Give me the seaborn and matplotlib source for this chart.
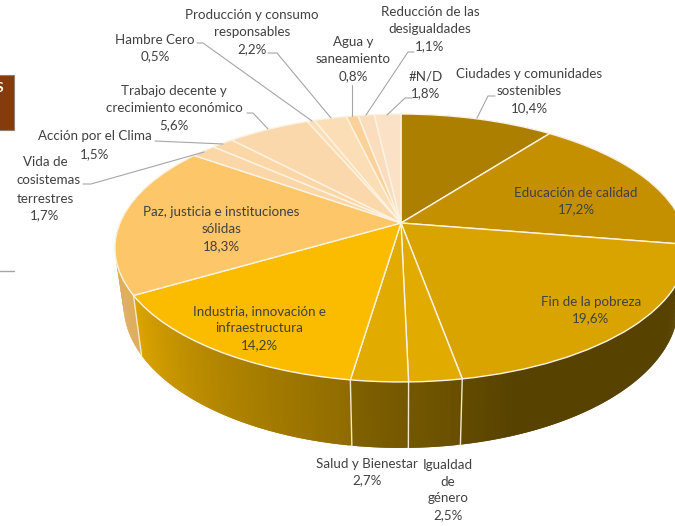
import numpy as np
import matplotlib
matplotlib.use("Agg")
import matplotlib.pyplot as plt
import matplotlib.transforms as mtrans
from matplotlib.collections import PolyCollection
from matplotlib.patches import Rectangle
import seaborn as sns

categories = ["Ciudades y comunidades\nsostenibles", "Educación de calidad", "Fin de la pobreza",
              "Igualdad\nde\ngénero", "Salud y Bienestar", "Industria, innovación e\ninfraestructura",
              "Paz, justicia e instituciones\nsólidas", "Vida de\ncosistemas\nterrestres",
              "Acción por el Clima", "Trabajo decente y\ncrecimiento económico", "Hambre Cero",
              "Producción y consumo\nresponsables", "Agua y\nsaneamiento",
              "Reducción de las\ndesigualdades", "#N/D"]
values = [10.4, 17.2, 19.6, 2.5, 2.7, 14.2, 18.3, 1.7, 1.5, 5.6, 0.5, 2.2, 0.8, 1.1, 1.8]
slice_colors = ["#AD7F00", "#C49000", "#D9A400", "#E2AB00", "#E2AB00", "#FBBC00", "#FDC669",
                "#FBD7A8", "#FBD7A8", "#FBD7AC", "#FBDDB6", "#FBDDB6", "#FBD19A", "#FBDDBE", "#FBE1C6"]

sns.set_theme(style="white")
plt.rcParams["font.family"] = ["Lato", "DejaVu Sans"]

CX, CY, R, B, K = 401.0, 223.0, 281.0, 129.3, 0.1866


class Tilt(mtrans.Transform):
    """Perspective view of the unit pie plane, in pixel-like axes units."""
    input_dims = output_dims = 2
    is_separable = False
    has_inverse = False

    def __init__(self, lower=False):
        super().__init__()
        self.lower = lower

    def transform_non_affine(self, v):
        v = np.asarray(v, dtype=float)
        s = 1.0 / (1.0 + K * v[:, 1])
        x = CX + R * v[:, 0] * s
        y = CY - B * v[:, 1] * s
        if self.lower:
            x = CX + 0.97 * (x - CX)
            y = y + 55 + 0.069 * (y - CY)
        return np.column_stack([x, y])


fig = plt.figure(figsize=(6.75, 5.26), dpi=100, facecolor="white")
ax = fig.add_axes([0, 0, 1, 1])

# light falloff along the visible rim, keyed on the pie angle (deg clockwise from top)
def shade(a):
    return np.interp(a, [95, 160, 170, 180, 190, 215, 240, 360],
                     [0.40, 0.40, 0.46, 0.52, 0.58, 0.72, 0.88, 0.88])

fractions = np.array(values) / np.sum(values)
edges = np.concatenate([[0], np.cumsum(fractions)]) * 360.0
polys, cols = [], []
up, low = Tilt(False), Tilt(True)
for i, col in enumerate(slice_colors):
    rgb = np.array(matplotlib.colors.to_rgb(col))
    a = np.arange(edges[i], edges[i + 1] + 0.01, 0.5)
    a = np.append(a, edges[i + 1])
    for a0, a1 in zip(a[:-1], a[1:]):
        if a1 <= a0:
            continue
        # each strip runs on under the next one, so no pale seam shows between them
        t = np.radians([a0, a0 + (a1 - a0) * 0.5, min(a1 + 0.5, edges[i + 1])])
        unit = np.column_stack([np.sin(t), np.cos(t)])
        pu, pl = up.transform_non_affine(unit), low.transform_non_affine(unit)
        polys.append([pu[0], pu[1], pu[2], pl[2], pl[1], pl[0]])
        cols.append(rgb * shade(0.5 * (a0 + a1)))
ax.add_collection(PolyCollection(polys, facecolors=cols, edgecolors="none", zorder=1))

# slice separators on the rim
for a in edges[1:8]:
    t = np.radians([a])
    unit = np.column_stack([np.sin(t), np.cos(t)])
    pu, pl = up.transform_non_affine(unit)[0], low.transform_non_affine(unit)[0]
    ax.plot([pu[0], pl[0]], [pu[1], pl[1]], color="#F3E8CF", lw=1.0, zorder=2)

wedges, _ = ax.pie(values, colors=slice_colors, startangle=90, counterclock=False,
                   wedgeprops=dict(edgecolor="#FBF3E2", linewidth=1.0, zorder=3))
for w in wedges:
    w.set_transform(up + ax.transData)

ax.set_aspect("auto")
ax.set_xlim(0, 675)
ax.set_ylim(526, 0)
ax.axis("off")

labels = [
    ("Ciudades y comunidades\nsostenibles\n10,4%", 529, 91),
    ("Educación de calidad\n17,2%", 576, 201),
    ("Fin de la pobreza\n19,6%", 591, 310),
    ("Igualdad\nde\ngénero\n2,5%", 448, 490),
    ("Salud y Bienestar\n2,7%", 367, 472),
    ("Industria, innovación e\ninfraestructura\n14,2%", 259, 328),
    ("Paz, justicia e instituciones\nsólidas\n18,3%", 221, 229),
    ("Vida de", 45, 162),
    ("cosistemas", 49, 180),
    ("terrestres\n1,7%", 45, 207),
    ("Acción por el Clima", 95, 136),
    ("1,5%", 95, 154),
    ("Trabajo decente y\ncrecimiento económico\n5,6%", 174, 108),
    ("Hambre Cero\n0,5%", 155, 48),
    ("Producción y consumo\nresponsables\n2,2%", 252, 32),
    ("Agua y\nsaneamiento\n0,8%", 353, 59),
    ("Reducción de las\ndesigualdades\n1,1%", 430, 29),
    ("#N/D\n1,8%", 426, 85),
]
for txt, x, y in labels:
    ax.text(x, y, txt, ha="center", va="center", fontsize=9.6, color="#404040",
            linespacing=1.48, zorder=5)

leaders = [
    [(197, 43), (203, 43), (312, 121)],
    [(268, 53), (277, 53), (331, 118)],
    [(352, 85), (352, 116)],
    [(414, 52), (408, 52), (366, 115)],
    [(412, 98), (405, 98), (387, 115)],
    [(495, 96), (488, 96), (477, 118)],
    [(247, 113), (253, 113), (268, 129)],
    [(155, 141), (223, 144)],
    [(83, 184), (91, 184), (204, 152)],
]
for pts in leaders:
    xs, ys = zip(*pts)
    ax.plot(xs, ys, color="#A6A6A6", lw=0.8, zorder=4)

ax.add_patch(Rectangle((-3, 75), 17, 55, facecolor="#843C0C", edgecolor="#8C7F77", lw=0.8, zorder=4))
ax.text(-1, 88, "S", color="white", fontsize=10, fontweight="bold", ha="center", va="center", zorder=5)
ax.plot([0, 14], [271, 271], color="#A6A6A6", lw=1.0, zorder=4)

fig.savefig("out.png", dpi=100)
